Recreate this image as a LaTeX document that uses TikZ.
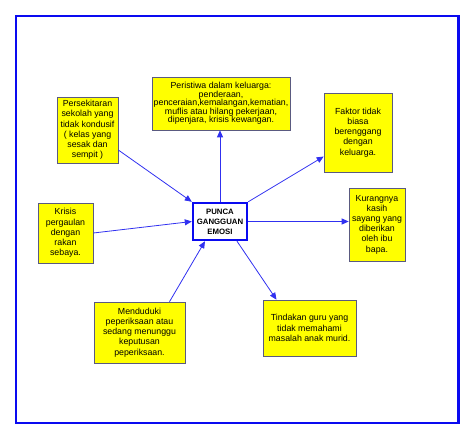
\documentclass[tikz,border=0pt]{standalone}
\usepackage{fontspec}
\setmainfont{Liberation Sans}
\usetikzlibrary{arrows.meta, positioning, calc}
\definecolor{frameblue}{HTML}{0A0AF0}
\definecolor{linkblue}{HTML}{3030F0}
\definecolor{boxfill}{HTML}{FFFF00}
\definecolor{boxline}{HTML}{5A5A80}

\begin{document}
\begin{tikzpicture}[
    x=1pt, y=-1pt,
    every node/.style={font=\fontsize{8.8}{10.2}\selectfont},
    box/.style={rectangle, draw=boxline, fill=boxfill, line width=0.6pt,
                inner sep=0pt, align=center},
    core/.style={rectangle, draw=frameblue, fill=white, line width=2.4pt,
                 inner sep=0pt, align=center, minimum width=54pt, minimum height=37pt,
                 font=\fontsize{7.8}{10}\selectfont\bfseries},
    arr/.style={-{Triangle[length=7pt, width=6pt]}, line width=0.8pt, color=linkblue},
]
\useasboundingbox (0,0) rectangle (474,439);

% outer frame
\draw[frameblue, line width=2.5pt] (16,16) rectangle (458.5,423);

% the centre
\node[core] (punca) at (220,221.5) {PUNCA\\GANGGUAN\\EMOSI};

% the causes round it
\node[box, minimum width=138pt, minimum height=53pt,
      font=\fontsize{8.8}{8.5}\selectfont] (peristiwa) at (221,103.5)
    {Peristiwa dalam keluarga:\\penderaan,\\penceraian,kemalangan,kematian,\\muflis atau hilang pekerjaan,\\dipenjara, krisis kewangan.};
\node[box, minimum width=61pt, minimum height=66pt] (sekitar) at (87.5,130)
    {Persekitaran\\sekolah yang\\tidak kondusif\\( kelas yang\\sesak dan\\sempit )};
\node[box, minimum width=68pt, minimum height=79pt] (faktor) at (358,132.5)
    {Faktor tidak\\biasa\\berenggang\\dengan\\keluarga.};
\node[box, minimum width=55pt, minimum height=60pt] (krisis) at (65.5,233)
    {Krisis\\pergaulan\\dengan\\rakan\\sebaya.};
\node[box, minimum width=56pt, minimum height=73pt] (kasih) at (377,224.5)
    {Kurangnya\\kasih\\sayang yang\\diberikan\\oleh ibu\\bapa.};
\node[box, minimum width=91pt, minimum height=61pt] (periksa) at (139.5,332.5)
    {Menduduki\\peperiksaan atau\\sedang menunggu\\keputusan\\peperiksaan.};
\node[box, minimum width=93pt, minimum height=56pt] (guru) at (309.5,328)
    {Tindakan guru yang\\tidak memahami\\masalah anak murid.};

% connectors
\draw[arr] (punca.north) -- (punca.north |- peristiwa.south);
\draw[arr] ([yshift=-20pt]sekitar.east) -- (punca.north west);
\draw[arr] (punca.north east) -- ([yshift=-24pt]faktor.west);
\draw[arr] (krisis.east) -- (punca.west);
\draw[arr] (punca.east) -- (punca.east -| kasih.west);
\draw[arr] ([xshift=30pt]periksa.north) -- ([xshift=-15pt]punca.south);
\draw[arr] ([xshift=17pt]punca.south) -- ([xshift=-33pt]guru.north);
\end{tikzpicture}
\end{document}
